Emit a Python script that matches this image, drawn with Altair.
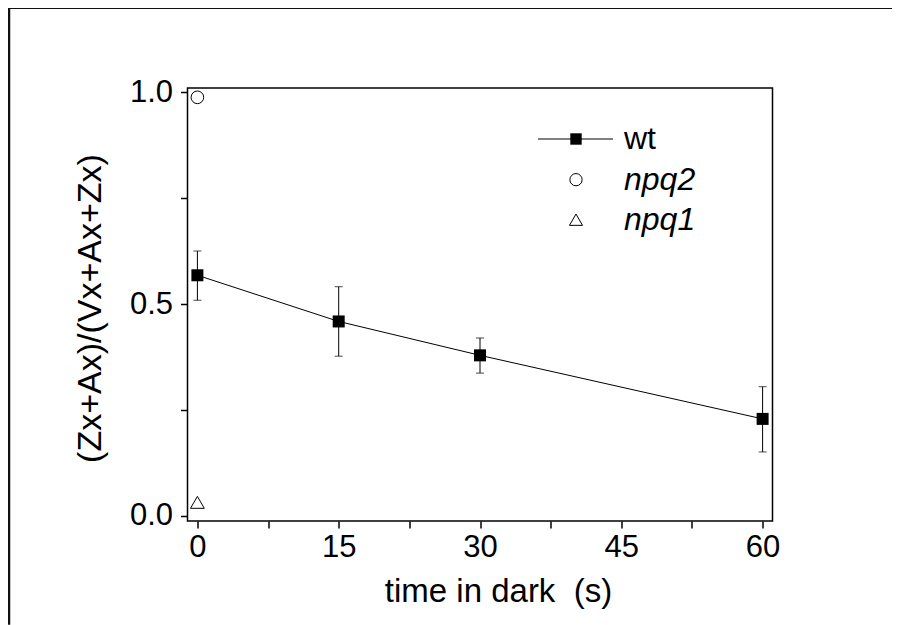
import altair as alt
import pandas as pd

# ---- data ----
time_s = [0, 15, 30, 60]
wt_ratio = [0.568, 0.459, 0.379, 0.229]
wt_low = [0.509, 0.377, 0.337, 0.151]
wt_high = [0.625, 0.541, 0.420, 0.305]
npq2_time = [0]
npq2_ratio = [0.988]
npq1_time = [0]
npq1_ratio = [0.032]
series_names = ["wt", "npq2", "npq1"]
x_ticks = [0, 7.5, 15, 22.5, 30, 37.5, 45, 52.5, 60]
y_ticks = [0, 0.25, 0.5, 0.75, 1.0]

W, H = 585, 433
PL, PT = 179.5, 80
PR = 884 - PL - W
PB = 617 - PT - H
FONT = "Liberation Sans"

wt = pd.DataFrame({"t": time_s, "v": wt_ratio, "lo": wt_low, "hi": wt_high})
npq2 = pd.DataFrame({"t": npq2_time, "v": npq2_ratio})
npq1 = pd.DataFrame({"t": npq1_time, "v": npq1_ratio})
one = pd.DataFrame({"a": [0]})

xs = alt.Scale(domain=[-1.05, 61.05], nice=False, zero=False)
ys = alt.Scale(domain=[-0.012, 1.01], nice=False, zero=False)

x_axis = alt.Axis(
    values=x_ticks,
    labelExpr="datum.value % 15 == 0 ? datum.label : ''",
    title="time in dark\u00a0 (s)",
    domain=False, grid=False,
    tickSize=7, tickWidth=1.5, tickColor="black",
    labelFont=FONT, labelFontSize=31, labelColor="black", labelPadding=4,
    labelFlush=False, labelOverlap=False,
    titleFont=FONT, titleFontSize=33, titleFontWeight="normal", titleColor="black",
    titleX=310.5, titleY=70, titleAlign="center", titleBaseline="middle",
)
y_axis = alt.Axis(
    values=y_ticks,
    labelExpr="datum.value % 0.5 == 0 ? format(datum.value, '.1f') : ''",
    title="(Zx+Ax)/(Vx+Ax+Zx)",
    domain=False, grid=False,
    tickSize=7, tickWidth=1.5, tickColor="black",
    labelFont=FONT, labelFontSize=31, labelColor="black", labelPadding=8,
    labelFlush=False, labelOverlap=False, labelBaseline="middle",
    titleFont=FONT, titleFontSize=34, titleFontWeight="normal", titleColor="black",
    titleX=-97.5, titleY=220, titleAngle=-90, titleAlign="center", titleBaseline="middle",
)

X = alt.X("t:Q", scale=xs, axis=x_axis)
Y = alt.Y("v:Q", scale=ys, axis=y_axis)

line = alt.Chart(wt).mark_line(color="black", strokeWidth=1).encode(x=X, y=Y)
err = alt.Chart(wt).mark_rule(color="black", strokeWidth=1).encode(
    x=X, y=alt.Y("lo:Q", scale=ys, axis=y_axis), y2="hi:Q")
cap_lo = alt.Chart(wt).mark_tick(color="black", thickness=1, size=8, orient="horizontal").encode(
    x=X, y=alt.Y("lo:Q", scale=ys, axis=y_axis))
cap_hi = alt.Chart(wt).mark_tick(color="black", thickness=1, size=8, orient="horizontal").encode(
    x=X, y=alt.Y("hi:Q", scale=ys, axis=y_axis))
sq = alt.Chart(wt).mark_point(shape="square", filled=True, color="black", size=144, opacity=1).encode(x=X, y=Y)
circ = alt.Chart(npq2).mark_point(shape="circle", filled=False, stroke="black", strokeWidth=1,
                                  size=160, opacity=1).encode(x=X, y=Y)
tri = alt.Chart(npq1).mark_point(shape="triangle-up", filled=False, stroke="black", strokeWidth=1,
                                 size=190, opacity=1).encode(x=X, y=Y)

# ---- legend (drawn inside the plot) ----
LX_SYM, LX_TXT = 388.5, 436.5
LY = [51, 91.7, 131.7]
leg_line = alt.Chart(one).mark_rule(color="black", strokeWidth=1).encode(
    x=alt.value(350.5), x2=alt.value(425.5), y=alt.value(LY[0]))
leg_sq = alt.Chart(one).mark_point(shape="square", filled=True, color="black", size=130, opacity=1).encode(
    x=alt.value(LX_SYM), y=alt.value(LY[0]))
leg_circ = alt.Chart(one).mark_point(shape="circle", filled=False, stroke="black", strokeWidth=1,
                                     size=150, opacity=1).encode(x=alt.value(LX_SYM), y=alt.value(LY[1]))
leg_tri = alt.Chart(one).mark_point(shape="triangle-up", filled=False, stroke="black", strokeWidth=1,
                                    size=170, opacity=1).encode(x=alt.value(LX_SYM), y=alt.value(LY[2]))
leg_texts = []
for i, name in enumerate(series_names):
    leg_texts.append(
        alt.Chart(one).mark_text(
            text=name, font=FONT, fontSize=32, color="black", align="left", baseline="middle",
            fontStyle="normal" if name == "wt" else "italic",
        ).encode(x=alt.value(LX_TXT), y=alt.value(LY[i]))
    )

# ---- outer figure frame (left and top edges) ----
frame_top = alt.Chart(one).mark_rule(color="#111111", strokeWidth=2.5).encode(
    x=alt.value(9 - 187.5), x2=alt.value(900 - 187.5), y=alt.value(8 - 88.3))
frame_left = alt.Chart(one).mark_rule(color="#111111", strokeWidth=2.5).encode(
    x=alt.value(9 - 187.5), y=alt.value(8 - 88.3), y2=alt.value(625 - 88.3))

chart = alt.layer(
    frame_top, frame_left,
    line, err, cap_lo, cap_hi, sq, circ, tri,
    leg_line, leg_sq, leg_circ, leg_tri, *leg_texts,
).properties(
    width=W, height=H,
    autosize=alt.AutoSizeParams(type="none"),
    padding={"left": PL, "top": PT, "right": PR, "bottom": PB},
    background="white",
).configure_view(stroke="black", strokeWidth=1.5)

chart.save("out.html", embed_options={"renderer": "svg", "actions": False})
